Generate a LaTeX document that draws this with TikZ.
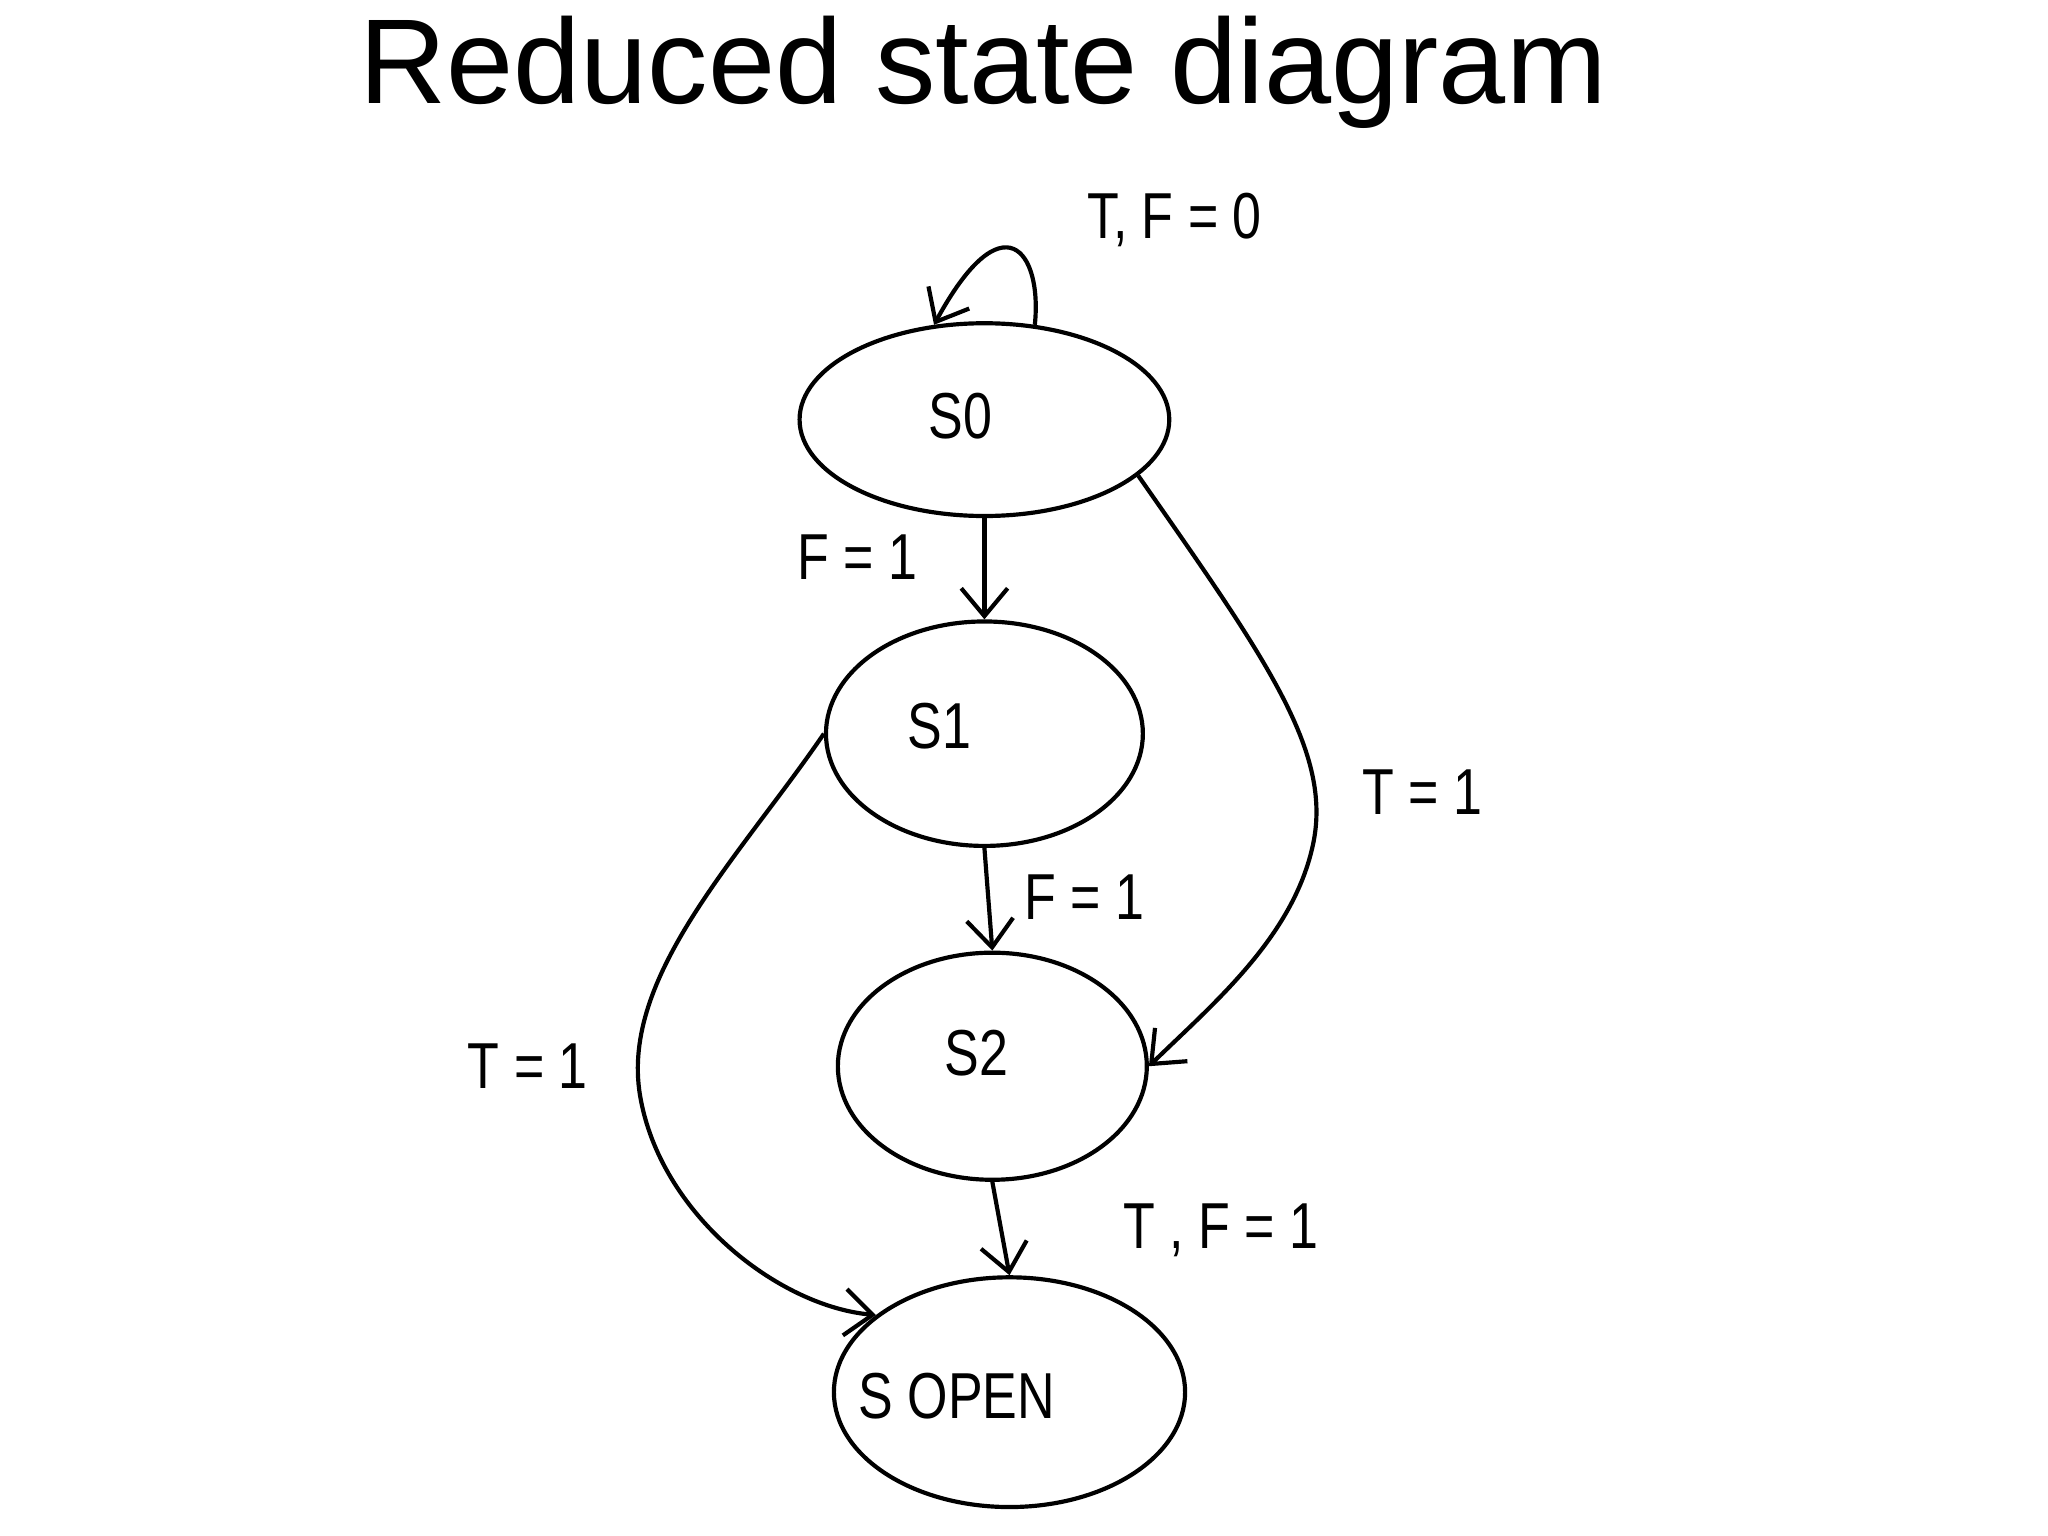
\documentclass[tikz,border=0pt]{standalone}
\usepackage{fontspec}
\setmainfont{Liberation Sans}
\usetikzlibrary{shapes.geometric, arrows.meta}
\begin{document}
\begin{tikzpicture}[x=0.01cm,y=-0.01cm,
  state/.style={draw, ellipse, line width=0.9pt, inner sep=0pt},
  lbl/.style={font=\fontsize{14}{14}\selectfont, xscale=0.8},
  tr/.style={line width=0.9pt, ->, >={Straight Barb[length=6pt,width=10pt]}}]
  \useasboundingbox (0,0) rectangle (1552,1164);
  \node[font=\fontsize{26}{26}\selectfont] (title) at (745,55) {Reduced state diagram};
  \node[state, minimum width=2.80cm, minimum height=1.46cm] (s0) at (746,318) {};
  \node[state, minimum width=2.40cm, minimum height=1.70cm] (s1) at (746,556) {};
  \node[state, minimum width=2.34cm, minimum height=1.72cm] (s2) at (752,808) {};
  \node[state, minimum width=2.66cm, minimum height=1.74cm] (so) at (765,1055) {};
  \node[lbl] (t0) at (728,315) {S0};
  \node[lbl] (t1) at (712,550) {S1};
  \node[lbl] (t2) at (740,798) {S2};
  \node[lbl] (to) at (725,1058) {S OPEN};
  \node[lbl] (l1) at (890,167) {T, F = 0};
  \node[lbl] (l2) at (650,422) {F = 1};
  \node[lbl] (l3) at (822,680) {F = 1};
  \node[lbl] (l4) at (1078,600) {T = 1};
  \node[lbl] (l5) at (400,808) {T = 1};
  \node[lbl] (l6) at (925,932) {T , F = 1};
  \draw[tr] (s0.62) .. controls (790,190) and (760,150) .. (s0.118);
  \draw[tr] (s0.south) -- (s1.north);
  \draw[tr] (s1.south) -- (s2.north);
  \draw[tr] (s2.south) -- (so.north);
  \draw[tr] (s0.-20) .. controls (960,500) and (1010,570) .. (995,640)
    .. controls (980,710) and (920,760) .. (s2.east);
  \draw[tr] (s1.west) .. controls (560,650) and (470,740) .. (485,830)
    .. controls (500,920) and (590,990) .. (so.150);
\end{tikzpicture}
\end{document}
